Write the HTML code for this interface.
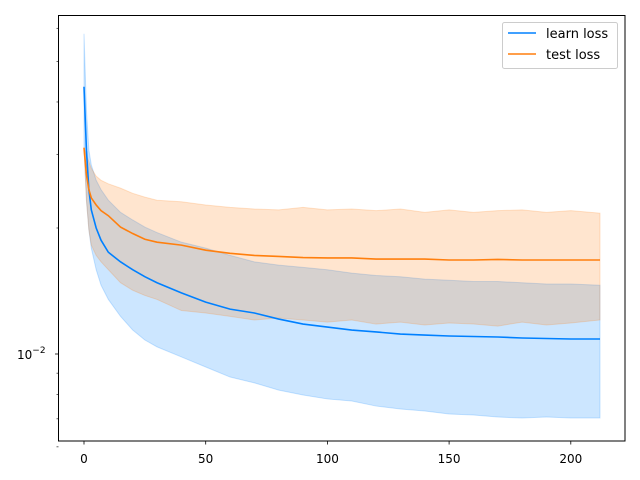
<!DOCTYPE html>
<html><head><meta charset="utf-8"><style>
body{margin:0;background:#fff;}
svg{display:block;font-family:"DejaVu Sans","Liberation Sans",sans-serif;}
</style></head><body>
<svg id="chart" width="640" height="480" viewBox="0 0 640 480">
<rect x="0" y="0" width="640" height="480" fill="#fff"/>
<g id="bands"></g>
<g id="lines"></g>
<rect x="58.5" y="15.5" width="566.5" height="425.5" fill="none" stroke="#000" stroke-width="1"/>
<g id="xticks"></g>
<g id="yticks"></g>
<g>
<rect x="502.5" y="22.5" width="115" height="46" rx="2" fill="#fff" fill-opacity="0.8" stroke="#ccc"/>
<line x1="508" y1="33" x2="536" y2="33" stroke="#0080ff" stroke-width="1.5"/>
<text x="546" y="38" font-size="13" fill="#000">learn loss</text>
<line x1="508" y1="54" x2="536" y2="54" stroke="#ff7f0e" stroke-width="1.5"/>
<text x="546" y="59" font-size="13" fill="#000">test loss</text>
</g>
</svg>
<script>
const epochs=[0,1,2,3,5,7,10,15,20,25,30,40,50,60,70,80,90,100,110,120,130,140,150,160,170,180,190,200,212];
const learnMean=[0.0435,0.0307,0.0247,0.0221,0.0200,0.0187,0.0175,0.0166,0.0159,0.0153,0.0148,0.0140,0.0133,0.0128,0.01253,0.01212,0.01179,0.01160,0.01141,0.01129,0.01116,0.01110,0.01104,0.01101,0.01098,0.01092,0.01089,0.01086,0.01086];
const learnUpper=[0.0582,0.0383,0.0307,0.0283,0.0260,0.0247,0.0233,0.0218,0.0209,0.0201,0.0195,0.0185,0.0179,0.0172,0.0166,0.0163,0.0161,0.0159,0.0156,0.0154,0.0153,0.0151,0.0150,0.0149,0.0149,0.0148,0.0147,0.0147,0.0146];
const learnLower=[0.0311,0.0233,0.0198,0.0179,0.0159,0.0146,0.0135,0.0123,0.01141,0.0108,0.0104,0.00984,0.00931,0.00881,0.00853,0.00820,0.00798,0.00781,0.00772,0.00751,0.00739,0.00731,0.00719,0.00715,0.00707,0.00703,0.00707,0.00703,0.00703];
const testMean=[0.0311,0.0268,0.0247,0.0236,0.0227,0.0220,0.0214,0.0201,0.0194,0.0188,0.0185,0.0182,0.0177,0.0174,0.0172,0.0171,0.0170,0.01696,0.01696,0.01686,0.01686,0.01686,0.01677,0.01677,0.01682,0.01677,0.01677,0.01677,0.01677];
const testUpper=[0.0311,0.0299,0.0288,0.0278,0.0266,0.0260,0.0255,0.0249,0.0242,0.0237,0.0233,0.0231,0.0227,0.0224,0.0222,0.0221,0.0224,0.0221,0.0222,0.0220,0.0222,0.0218,0.0221,0.0218,0.0220,0.0221,0.0218,0.0220,0.0217];
const testLower=[0.0311,0.0233,0.0198,0.0182,0.0172,0.0166,0.0159,0.0148,0.0142,0.0138,0.0135,0.0127,0.01253,0.0123,0.01206,0.01219,0.01206,0.01192,0.01206,0.01179,0.01192,0.01173,0.01186,0.01179,0.01166,0.01192,0.01173,0.01186,0.01206];
const xTickVals=[0,50,100,150,200];
const xTickLabels=["0","50","100","150","200"];
const yMinorVals=[0.006,0.007,0.008,0.009,0.02,0.03,0.04,0.05,0.06];
const NS="http://www.w3.org/2000/svg";
function xs(v){return 84+v*2.434;}
function ys(v){return 354-418.6*Math.log10(v/0.01);}
function mk(tag,attrs,parent){const e=document.createElementNS(NS,tag);for(const k in attrs)e.setAttribute(k,attrs[k]);parent.appendChild(e);return e;}
function linePts(arr){return epochs.map((e,i)=>xs(e).toFixed(2)+","+ys(arr[i]).toFixed(2)).join(" ");}
function bandPts(lo,hi){const a=epochs.map((e,i)=>xs(e).toFixed(2)+","+ys(hi[i]).toFixed(2));const b=epochs.map((e,i)=>xs(e).toFixed(2)+","+ys(lo[i]).toFixed(2)).reverse();return a.concat(b).join(" ");}
const bands=document.getElementById('bands'),lines=document.getElementById('lines');
const bl=mk('polygon',{points:bandPts(learnLower,learnUpper),fill:'#0080ff','fill-opacity':0.2,stroke:'#0080ff','stroke-opacity':0.2,'stroke-width':1},bands);


const bt=mk('polygon',{points:bandPts(testLower,testUpper),fill:'#ff7f0e','fill-opacity':0.2,stroke:'#ff7f0e','stroke-opacity':0.2,'stroke-width':1},bands);


const ll=mk('polyline',{points:linePts(learnMean),fill:'none',stroke:'#0080ff','stroke-width':1.6},lines);


const tl=mk('polyline',{points:linePts(testMean),fill:'none',stroke:'#ff7f0e','stroke-width':1.6},lines);


const xg=document.getElementById('xticks');
xTickVals.forEach((v,i)=>{
 const t=mk('line',{x1:xs(v),y1:441,x2:xs(v),y2:444.5,stroke:'#000','stroke-width':0.8},xg);
 
 
 const l=mk('text',{x:xs(v),y:463,'font-size':12,'text-anchor':'middle',fill:'#000'},xg);
 l.textContent=xTickLabels[i];
 
 
});
const yg=document.getElementById('yticks');
yMinorVals.forEach(v=>{
 const t=mk('line',{x1:56.5,y1:ys(v),x2:58.5,y2:ys(v),stroke:'#000','stroke-width':0.6},yg);
 
 
});
const mj=mk('line',{x1:55,y1:ys(0.01),x2:58.5,y2:ys(0.01),stroke:'#000','stroke-width':0.8},yg);


const yl=mk('text',{x:17,y:ys(0.01)+5,'font-size':12,fill:'#000'},yg);


yl.innerHTML='10<tspan dy="-6" font-size="9">−2</tspan>';
</script>
</body></html>
